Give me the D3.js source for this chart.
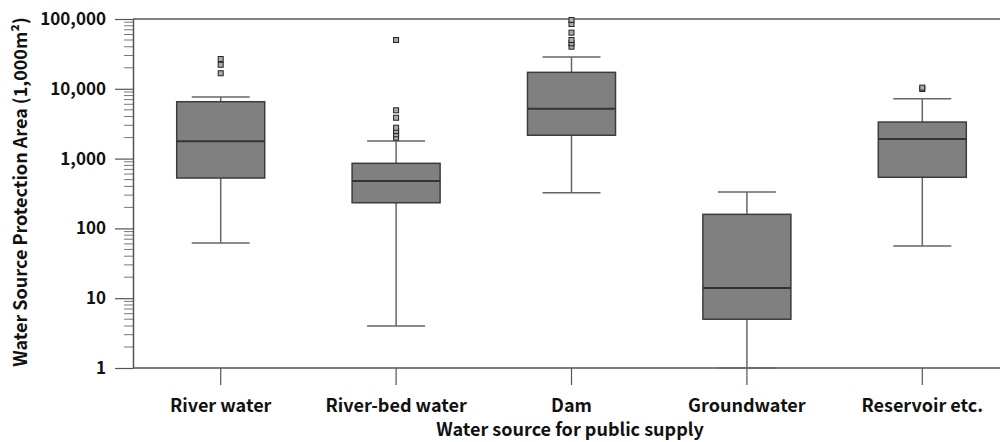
<!DOCTYPE html>
<html>
<head>
<meta charset="utf-8">
<script src="https://cdn.jsdelivr.net/npm/d3@7"></script>
<style>
    body { margin: 0; background: #fff; }
    svg text { font-family: "Noto Sans CJK KR", "Noto Sans", sans-serif; font-weight: bold; fill: #111; }
</style>
</head>
<body>
<svg id="chart" width="1000" height="442"></svg>
<script>
// values (1,000 m2)
const categories = ["River water", "River-bed water", "Dam", "Groundwater", "Reservoir etc."];
const whiskerLow = [62, 4, 325, 1, 56];
const q1 = [527, 233, 2160, 5, 540];
const median = [1770, 478, 5190, 14, 1910];
const q3 = [6530, 856, 17200, 159, 3340];
const whiskerHigh = [7630, 1790, 28600, 332, 7210];
const outliers = [
    [16700, 22100, 26700],
    [1990, 2230, 2480, 2770, 3850, 4920, 50000],
    [40100, 44900, 50000, 63700, 84800, 96800],
    [],
    [9930, 10400]
];
const yTicks = [1, 10, 100, 1000, 10000, 100000];

const svg = d3.select("#chart");
const plotLeft = 133, plotTop = 19, plotBottom = 368;

const x = d3.scaleBand()
    .domain(categories)
    .range([plotLeft, 1010]);

const y = d3.scaleLog()
    .domain([1, 100000])
    .range([plotBottom, plotTop]);

const boxW = 88, capW = 58;
const lineColor = "#555";

// frame line on top (runs off the right edge)
svg.append("line")
    .attr("x1", plotLeft).attr("x2", 1000)
    .attr("y1", y(100000)).attr("y2", y(100000))
    .attr("stroke", lineColor).attr("stroke-width", 1.5);

// minor ticks
const minor = [];
for (let p = 1; p < 100000; p *= 10) {
    for (let k = 2; k <= 9; k++) minor.push(p * k);
}
svg.append("g")
    .selectAll("line")
    .data(minor)
    .enter().append("line")
    .attr("x1", plotLeft - 9).attr("x2", plotLeft)
    .attr("y1", d => y(d)).attr("y2", d => y(d))
    .attr("stroke", "#777").attr("stroke-width", 1);

// y axis
const yAxis = svg.append("g")
    .attr("transform", `translate(${plotLeft},0)`)
    .call(d3.axisLeft(y)
        .tickValues(yTicks)
        .tickFormat(d3.format(","))
        .tickSize(18)
        .tickSizeOuter(0)
        .tickPadding(9));
yAxis.select(".domain").attr("stroke", lineColor).attr("stroke-width", 1.5);
yAxis.selectAll(".tick line").attr("stroke", lineColor).attr("stroke-width", 1.2);
yAxis.selectAll("text").style("font-size", "17px").attr("fill", "#111");

// x axis
const xAxis = svg.append("g")
    .attr("transform", `translate(0,${plotBottom})`)
    .call(d3.axisBottom(x)
        .tickSize(17)
        .tickSizeOuter(0)
        .tickPadding(14));
xAxis.select(".domain")
    .attr("d", `M${plotLeft},0H1000`)
    .attr("stroke", lineColor).attr("stroke-width", 1.5);
xAxis.selectAll(".tick line").attr("stroke", lineColor).attr("stroke-width", 1.2);
xAxis.selectAll("text").style("font-size", "18px").attr("fill", "#111");

// boxes
const idx = d3.range(categories.length);
const cx = i => x(categories[i]) + x.bandwidth() / 2;

const g = svg.append("g");

// whiskers
g.selectAll(".whisker")
    .data(idx)
    .enter().append("line")
    .attr("class", "whisker")
    .attr("x1", cx).attr("x2", cx)
    .attr("y1", i => y(whiskerLow[i])).attr("y2", i => y(whiskerHigh[i]))
    .attr("stroke", "#666").attr("stroke-width", 1.5);

g.selectAll(".capHi")
    .data(idx)
    .enter().append("line")
    .attr("class", "capHi")
    .attr("x1", i => cx(i) - capW / 2).attr("x2", i => cx(i) + capW / 2)
    .attr("y1", i => y(whiskerHigh[i])).attr("y2", i => y(whiskerHigh[i]))
    .attr("stroke", "#666").attr("stroke-width", 1.5);

g.selectAll(".capLo")
    .data(idx)
    .enter().append("line")
    .attr("class", "capLo")
    .attr("x1", i => cx(i) - capW / 2).attr("x2", i => cx(i) + capW / 2)
    .attr("y1", i => y(whiskerLow[i])).attr("y2", i => y(whiskerLow[i]))
    .attr("stroke", "#666").attr("stroke-width", 1.5);

g.selectAll(".box")
    .data(idx)
    .enter().append("rect")
    .attr("class", "box")
    .attr("x", i => cx(i) - boxW / 2)
    .attr("width", boxW)
    .attr("y", i => y(q3[i]))
    .attr("height", i => y(q1[i]) - y(q3[i]))
    .attr("fill", "#808080")
    .attr("stroke", "#3c3c3c")
    .attr("stroke-width", 1.5);

g.selectAll(".median")
    .data(idx)
    .enter().append("line")
    .attr("class", "median")
    .attr("x1", i => cx(i) - boxW / 2).attr("x2", i => cx(i) + boxW / 2)
    .attr("y1", i => y(median[i])).attr("y2", i => y(median[i]))
    .attr("stroke", "#333").attr("stroke-width", 2);

// outliers
const pts = [];
outliers.forEach((arr, i) => arr.forEach(v => pts.push({ i: i, v: v })));
g.selectAll(".out")
    .data(pts)
    .enter().append("rect")
    .attr("class", "out")
    .attr("x", d => cx(d.i) - 2.5)
    .attr("y", d => y(d.v) - 2.5)
    .attr("width", 5).attr("height", 5)
    .attr("fill", "#aaa")
    .attr("stroke", "#222")
    .attr("stroke-width", 1);

// axis titles
svg.append("text")
    .attr("transform", `translate(27,192) rotate(-90)`)
    .attr("text-anchor", "middle")
    .style("font-size", "18px")
    .text("Water Source Protection Area (1,000m²)");

svg.append("text")
    .attr("x", 570)
    .attr("y", 436)
    .attr("text-anchor", "middle")
    .style("font-size", "18px")
    .text("Water source for public supply");
</script>
</body>
</html>
